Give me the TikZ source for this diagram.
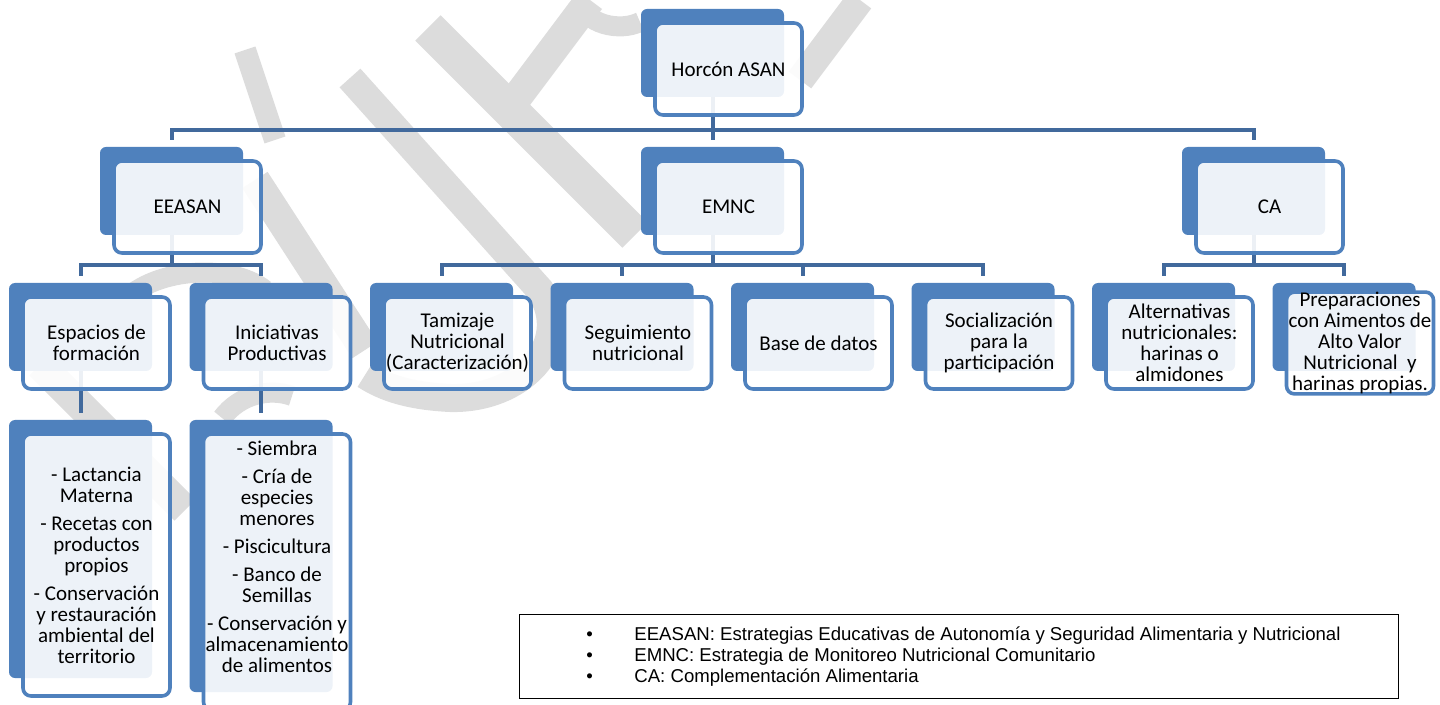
\documentclass[tikz,border=0pt]{standalone}
\usepackage{fontspec}
\setmainfont{Carlito}
\newfontfamily\legendfont{Liberation Sans}
\usepackage{tikz}
\usetikzlibrary{positioning}
\definecolor{boxblue}{HTML}{4F81BD}
\definecolor{linkblue}{HTML}{41699C}
\definecolor{wmgray}{HTML}{DCDCDC}
\pgfdeclarelayer{wm}
\pgfdeclarelayer{bg}
\pgfsetlayers{wm,bg,main}

\begin{document}
\begin{tikzpicture}[x=0.5pt, y=-0.5pt, node distance=90.25pt, on grid,
   back/.style={fill=boxblue, rounded corners=3pt, minimum width=71.5pt, minimum height=44pt, inner sep=0pt},
   front/.style={draw=boxblue, line width=1.8pt, fill=white, fill opacity=0.9, text opacity=1,
      rounded corners=4pt, minimum width=73.5pt, minimum height=46pt, inner sep=0pt,
      align=center, font=\fontsize{10.5}{10.5}\selectfont},
   link/.style={draw=linkblue, line width=2pt},
   drop/.style={link, shorten >=3.5pt},
   wmark/.style={draw=wmgray, line width=#1},
   wmark/.default=15pt]
   \useasboundingbox (0,0) rectangle (1440,705);

   % 根节点
   \node[back] (horB) at (712.5,53) {};
   \node[front, below right=8pt and 8pt of horB] (hor) {Horcón ASAN};

   % 第一层
   \node[back] (eeasanB) at (171.5,191) {};
   \node[back] (emncB) [right=270.5pt of eeasanB] {};
   \node[back] (caB) [right=270.5pt of emncB] {};
   \node[front, below right=8pt and 8pt of eeasanB] (eeasan) {EEASAN};
   \node[front, below right=8pt and 8pt of emncB] (emnc) {EMNC};
   \node[front, below right=8pt and 8pt of caB] (ca) {CA};

   % 第二层
   \node[back] (espB) at (80.5,327) {};
   \node[back] (iniB) [right=of espB] {};
   \node[back] (tamB) [right=of iniB] {};
   \node[back] (segB) [right=of tamB] {};
   \node[back] (basB) [right=of segB] {};
   \node[back] (socB) [right=of basB] {};
   \node[back] (altB) [right=of socB] {};
   \node[back] (preB) [right=of altB] {};
   \node[front, below right=8pt and 8pt of espB] (esp) {Espacios de\\formación};
   \node[front, below right=8pt and 8pt of iniB] (ini) {Iniciativas\\Productivas};
   \node[front, below right=8pt and 8pt of tamB] (tam) {Tamizaje\\Nutricional\\(Caracterización)};
   \node[front, below right=8pt and 8pt of segB] (seg) {Seguimiento\\nutricional};
   \node[front, below right=8pt and 8pt of basB] (bas) {Base de datos};
   \node[front, below right=8pt and 8pt of socB] (soc) {Socialización\\para la\\participación};
   \node[front, below right=8pt and 8pt of altB] (alt) {Alternativas\\nutricionales:\\harinas o\\almidones};
   \node[front, below right=8pt and 8pt of preB] (pre) {Preparaciones\\con Aimentos de\\Alto Valor\\Nutricional~\ y\\harinas propias.};

   % 第三层
   \node[back, minimum height=129pt] (espLB) at (80.5,549) {};
   \node[back, minimum height=136pt] (iniLB) at (261,556) {};
   \node[front, minimum height=131pt, below right=8pt and 8pt of espLB] (espL)
      {- Lactancia\\Materna\\[3.5pt]- Recetas con\\productos\\propios\\[3.5pt]- Conservación\\y restauración\\ambiental del\\territorio};
   \node[front, minimum height=138pt, below right=8pt and 8pt of iniLB] (iniL) {};
   \node[align=center, font=\fontsize{10.5}{10.5}\selectfont, inner sep=0pt] (iniLtxt) at (277,557)
      {- Siembra\\[3.5pt]- Cría de\\especies\\menores\\[3.5pt]- Piscicultura\\[3.5pt]- Banco de\\Semillas\\[3.5pt]- Conservación y\\almacenamiento\\de alimentos};

   % 说明框
   \node[draw, line width=0.5pt, minimum width=439.5pt, minimum height=42pt, inner sep=0pt] (legend) at (958.5,656) {};
   \node[anchor=west, align=left, inner sep=0pt, font=\legendfont\fontsize{9.3}{10.5}\selectfont] (legendtxt) at (586,657)
      {\makebox[24pt][l]{•}EEASAN: Estrategias Educativas de Autonomía y Seguridad Alimentaria y Nutricional\\
       \makebox[24pt][l]{•}EMNC: Estrategia de Monitoreo Nutricional Comunitario\\
       \makebox[24pt][l]{•}CA: Complementación Alimentaria};

   % 连线
   \begin{pgfonlayer}{bg}
      \coordinate (bus0) at (712.5,130);
      \draw[link] (horB.center) -- (bus0);
      \draw[drop] (bus0) -- (emncB.north);
      \draw[link, shorten <=3.5pt, shorten >=3.5pt] (eeasanB.north) |- (bus0) -| (caB.north);

      \coordinate (bus1) at (171.5,265);
      \draw[link] (eeasanB.center) -- (bus1);
      \draw[link, shorten <=3.5pt, shorten >=3.5pt] (espB.north) |- (bus1) -| (iniB.north);

      \coordinate (bus2) at (712.5,265);
      \draw[link] (emncB.center) -- (bus2);
      \draw[link, shorten <=3.5pt, shorten >=3.5pt] (tamB.north) |- (bus2) -| (socB.north);
      \draw[drop] (segB.north |- bus2) -- (segB.north);
      \draw[drop] (basB.north |- bus2) -- (basB.north);

      \coordinate (bus3) at (1253.5,265);
      \draw[link] (caB.center) -- (bus3);
      \draw[link, shorten <=3.5pt, shorten >=3.5pt] (altB.north) |- (bus3) -| (preB.north);

      \draw[drop] (espB.center) -- (espLB.north);
      \draw[drop] (iniB.center) -- (iniLB.north);
   \end{pgfonlayer}

   % 水印
   \begin{pgfonlayer}{wm}
      \draw[wmark=11pt] (245,50) -- (275,140);
      \draw[wmark=14pt] (350,78) -- (540,290) .. controls (575,345) and (520,400) .. (450,398)
         .. controls (410,396) and (385,388) .. (365,375);
      \draw[wmark=18pt] (428,28) -- (635,235);
      \draw[wmark] (515,100) -- (590,0);
      \draw[wmark=14pt] (800,80) -- (860,0);
      \draw[wmark=10pt] (578,0) .. controls (585,25) and (620,32) .. (640,22);
      \draw[wmark] (255,180) -- (365,350);
      \draw[wmark] (40,365) -- (185,510);
      \draw[wmark=10pt] (120,305) .. controls (150,268) and (230,262) .. (265,290);
      \draw[wmark=10pt] (222,418) .. controls (240,394) and (270,388) .. (292,396);
   \end{pgfonlayer}
\end{tikzpicture}
\end{document}
